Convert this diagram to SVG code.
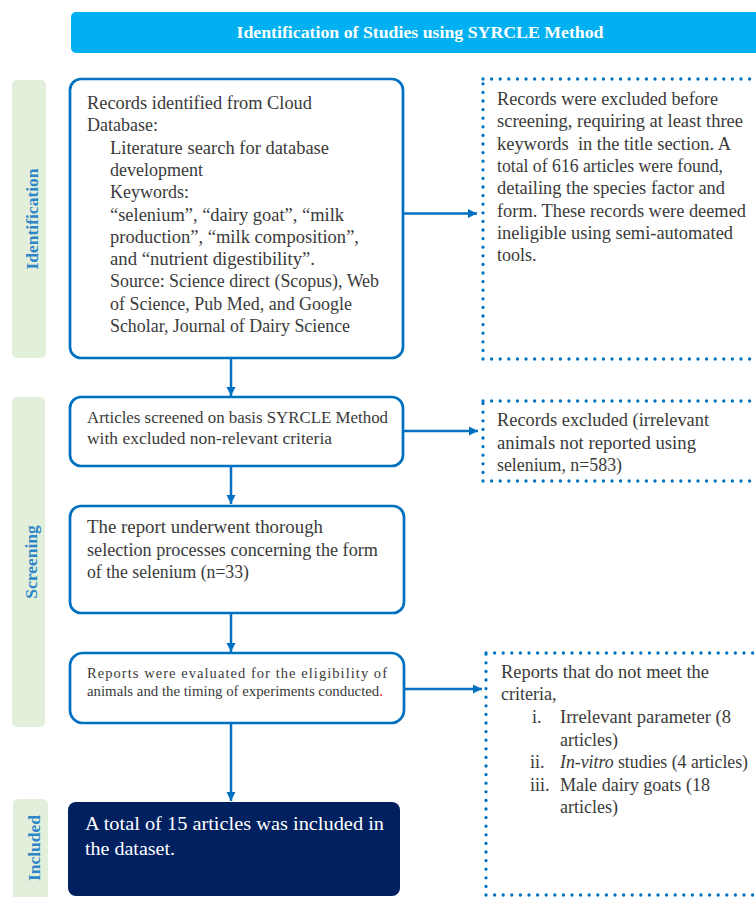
<svg xmlns="http://www.w3.org/2000/svg" width="756" height="897" viewBox="0 0 756 897">
<defs>
<marker id="arr" markerUnits="userSpaceOnUse" markerWidth="10" markerHeight="10" refX="9" refY="4.5" orient="auto">
<path d="M0,0 L9,4.5 L0,9 z" fill="#0070C0"/>
</marker>
<style>
.side{fill:#E2EFDA}
.sidet{font-family:"Liberation Serif",serif;font-weight:bold;font-size:17.5px;fill:#2E86C8;text-anchor:middle}
.box{fill:#fff;stroke:#0070C0;stroke-width:2.7}
.dot{fill:none;stroke:#0070C0;stroke-width:3.3;stroke-linecap:round;stroke-dasharray:0 8.6}
.t{font-family:"Liberation Serif",serif;font-size:18px;fill:#3A3A3A}
.c{fill:none;stroke:#0070C0;stroke-width:2.5;marker-end:url(#arr)}
</style>
</defs>
<rect width="756" height="897" fill="#fff"/>
<g id="header">
<rect x="71" y="12" width="700" height="41" rx="5" fill="#00B0F0"/>
<text x="420" y="38" text-anchor="middle" textLength="367" lengthAdjust="spacingAndGlyphs" style="font-family:'Liberation Serif',serif;font-weight:bold;font-size:16.5px;fill:#fff">Identification of Studies using SYRCLE Method</text>
</g>
<g id="phase-identification">
<rect class="side" x="12" y="80" width="34" height="278" rx="5"/>
<text class="sidet" transform="translate(38,219) rotate(-90)">Identification</text>
</g>
<g id="phase-screening">
<rect class="side" x="12" y="397" width="33" height="330" rx="5"/>
<text class="sidet" transform="translate(37,562) rotate(-90)">Screening</text>
</g>
<g id="phase-included">
<rect class="side" x="13" y="799" width="35" height="110" rx="5"/>
<text class="sidet" transform="translate(40,848) rotate(-90)">Included</text>
</g>
<g id="records-identified">
<rect class="box" x="70" y="79" width="333" height="279" rx="11"/>
<text class="t">
<tspan x="87" y="109" textLength="225" lengthAdjust="spacingAndGlyphs">Records identified from Cloud</tspan>
<tspan x="87" y="131.3">Database:</tspan>
<tspan x="110" y="153.6" textLength="219" lengthAdjust="spacingAndGlyphs">Literature search for database</tspan>
<tspan x="110" y="175.9">development</tspan>
<tspan x="110" y="198.2">Keywords:</tspan>
<tspan x="110" y="220.5" textLength="234" lengthAdjust="spacingAndGlyphs">“selenium”, “dairy goat”, “milk</tspan>
<tspan x="110" y="242.8" textLength="249" lengthAdjust="spacingAndGlyphs">production”, “milk composition”,</tspan>
<tspan x="110" y="265.1" textLength="205" lengthAdjust="spacingAndGlyphs">and “nutrient digestibility”.</tspan>
<tspan x="110" y="287.4" textLength="269" lengthAdjust="spacingAndGlyphs">Source: Science direct (Scopus), Web</tspan>
<tspan x="110" y="309.7" textLength="242" lengthAdjust="spacingAndGlyphs">of Science, Pub Med, and Google</tspan>
<tspan x="110" y="332" textLength="240" lengthAdjust="spacingAndGlyphs">Scholar, Journal of Dairy Science</tspan>
</text>
</g>
<g id="excluded-before-screening">
<path class="dot" d="M483,359 V79 M483,79 H760 M483,359 H760"/>
<text class="t">
<tspan x="497" y="105" textLength="221" lengthAdjust="spacingAndGlyphs">Records were excluded before</tspan>
<tspan x="497" y="127.3" textLength="246" lengthAdjust="spacingAndGlyphs">screening, requiring at least three</tspan>
<tspan x="497" y="149.6" textLength="233" lengthAdjust="spacingAndGlyphs" xml:space="preserve">keywords  in the title section. A</tspan>
<tspan x="497" y="171.9" textLength="226" lengthAdjust="spacingAndGlyphs">total of 616 articles were found,</tspan>
<tspan x="497" y="194.2" textLength="228" lengthAdjust="spacingAndGlyphs">detailing the species factor and</tspan>
<tspan x="497" y="216.5" textLength="249" lengthAdjust="spacingAndGlyphs">form. These records were deemed</tspan>
<tspan x="497" y="238.8" textLength="236" lengthAdjust="spacingAndGlyphs">ineligible using semi-automated</tspan>
<tspan x="497" y="261.1">tools.</tspan>
</text>
</g>
<g id="articles-screened">
<rect class="box" x="70" y="397" width="333" height="69" rx="11"/>
<text class="t" style="font-size:17px">
<tspan x="87" y="423" textLength="301" lengthAdjust="spacingAndGlyphs">Articles screened on basis SYRCLE Method</tspan>
<tspan x="87" y="444" textLength="245" lengthAdjust="spacingAndGlyphs">with excluded non-relevant criteria</tspan>
</text>
</g>
<g id="records-excluded">
<path class="dot" d="M483,481 V401 M483,401 H760 M483,481 H760"/>
<text class="t">
<tspan x="497" y="426" textLength="212" lengthAdjust="spacingAndGlyphs">Records excluded (irrelevant</tspan>
<tspan x="497" y="448.5" textLength="199" lengthAdjust="spacingAndGlyphs">animals not reported using</tspan>
<tspan x="497" y="471" textLength="125" lengthAdjust="spacingAndGlyphs">selenium, n=583)</tspan>
</text>
</g>
<g id="report-selection">
<rect class="box" x="70" y="506" width="334" height="107" rx="11"/>
<text class="t">
<tspan x="87" y="533" textLength="236" lengthAdjust="spacingAndGlyphs">The report underwent thorough</tspan>
<tspan x="87" y="555.5" textLength="291" lengthAdjust="spacingAndGlyphs">selection processes concerning the form</tspan>
<tspan x="87" y="578" textLength="162" lengthAdjust="spacingAndGlyphs">of the selenium (n=33)</tspan>
</text>
</g>
<g id="eligibility">
<rect class="box" x="70" y="653" width="334" height="70" rx="13"/>
<text class="t" style="font-size:14.5px">
<tspan x="87" y="678" textLength="300" lengthAdjust="spacing">Reports were evaluated for the eligibility of</tspan>
<tspan x="87" y="696" textLength="296" lengthAdjust="spacingAndGlyphs">animals and the timing of experiments conducted<tspan fill="#FF0000">.</tspan></tspan>
</text>
</g>
<g id="not-meet-criteria">
<path class="dot" d="M486,895 V653 M486,653 H760 M486,895 H760"/>
<text class="t">
<tspan x="501" y="678" textLength="208" lengthAdjust="spacingAndGlyphs">Reports that do not meet the</tspan>
<tspan x="501" y="700">criteria,</tspan>
<tspan x="532" y="723">i.</tspan>
<tspan x="560" y="723" textLength="171" lengthAdjust="spacingAndGlyphs">Irrelevant parameter (8</tspan>
<tspan x="560" y="745.5">articles)</tspan>
<tspan x="530" y="768">ii.</tspan>
<tspan x="560" y="768" textLength="188" lengthAdjust="spacingAndGlyphs"><tspan font-style="italic">In-vitro</tspan> studies (4 articles)</tspan>
<tspan x="530" y="790.5">iii.</tspan>
<tspan x="560" y="790.5" textLength="150" lengthAdjust="spacingAndGlyphs">Male dairy goats (18</tspan>
<tspan x="560" y="813">articles)</tspan>
</text>
</g>
<g id="included">
<rect x="68" y="802" width="332" height="94" rx="8" fill="#002060"/>
<text class="t" style="fill:#fff;font-size:19.5px">
<tspan x="85" y="830" textLength="299" lengthAdjust="spacingAndGlyphs">A total of 15 articles was included in</tspan>
<tspan x="85" y="855" textLength="90" lengthAdjust="spacingAndGlyphs">the dataset.</tspan>
</text>
</g>
<g id="connectors">
<path class="c" d="M231,358 V396"/>
<path class="c" d="M403,213.5 H477"/>
<path class="c" d="M231,466 V504"/>
<path class="c" d="M403,431 H478"/>
<path class="c" d="M231,613 V652"/>
<path class="c" d="M404,689 H482"/>
<path class="c" d="M231,723 V801"/>
</g>
</svg>
